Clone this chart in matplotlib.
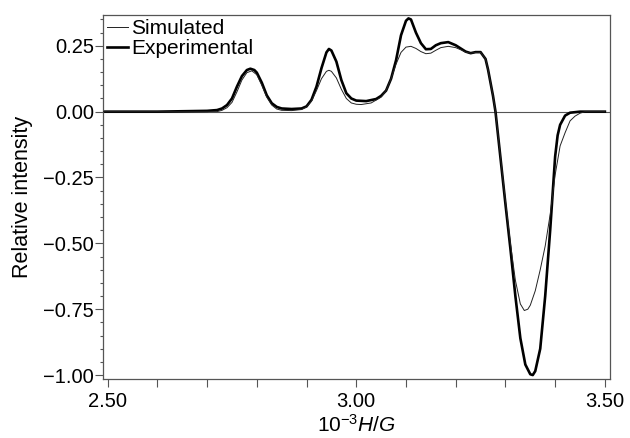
import matplotlib
matplotlib.use("Agg")
import matplotlib.pyplot as plt
from matplotlib.ticker import MultipleLocator, FixedLocator

plt.rcParams['font.family'] = ['Liberation Sans', 'DejaVu Sans']
plt.rcParams['mathtext.fontset'] = 'custom'
plt.rcParams['mathtext.it'] = 'Liberation Sans:italic'
plt.rcParams['mathtext.rm'] = 'Liberation Sans'

# Experimental spectrum (10^-3 H/G, relative intensity)
exp_x = [2.49, 2.60, 2.70, 2.72, 2.73, 2.74, 2.75, 2.76, 2.77, 2.78, 2.787, 2.795,
         2.80, 2.81, 2.82, 2.83, 2.84, 2.85, 2.87, 2.89, 2.90, 2.91, 2.92, 2.93,
         2.94, 2.945, 2.95, 2.96, 2.97, 2.98, 2.99, 3.00, 3.02, 3.04, 3.05, 3.06,
         3.07, 3.08, 3.09, 3.10, 3.105, 3.11, 3.12, 3.13, 3.14, 3.15, 3.16, 3.17,
         3.185, 3.20, 3.21, 3.22, 3.23, 3.24, 3.25, 3.26, 3.265, 3.27, 3.275, 3.28,
         3.29, 3.30, 3.31, 3.32, 3.33, 3.34, 3.35, 3.355, 3.36, 3.37, 3.38, 3.39,
         3.40, 3.405, 3.41, 3.42, 3.43, 3.45, 3.50]
exp_y = [0.0, 0.0, 0.003, 0.006, 0.012, 0.025, 0.05, 0.095, 0.135, 0.158, 0.163, 0.158,
         0.148, 0.11, 0.062, 0.032, 0.018, 0.012, 0.010, 0.012, 0.020, 0.045, 0.095, 0.165,
         0.225, 0.238, 0.232, 0.19, 0.12, 0.07, 0.05, 0.042, 0.040, 0.048, 0.060, 0.080,
         0.125, 0.195, 0.29, 0.345, 0.354, 0.35, 0.30, 0.26, 0.237, 0.238, 0.252, 0.26,
         0.264, 0.252, 0.24, 0.228, 0.222, 0.226, 0.226, 0.20, 0.16, 0.11, 0.06, 0.0,
         -0.175, -0.35, -0.52, -0.70, -0.86, -0.96, -0.997, -1.0, -0.985, -0.90, -0.70, -0.45,
         -0.17, -0.09, -0.05, -0.015, -0.004, 0.0, 0.0]

# Simulated spectrum
sim_x = [2.49, 2.72, 2.73, 2.74, 2.75, 2.76, 2.77, 2.78, 2.79, 2.80, 2.81, 2.82,
         2.83, 2.84, 2.85, 2.87, 2.89, 2.90, 2.91, 2.92, 2.93, 2.94, 2.945, 2.95,
         2.96, 2.97, 2.98, 2.99, 3.00, 3.01, 3.03, 3.05, 3.06, 3.07, 3.08, 3.09,
         3.10, 3.11, 3.12, 3.13, 3.14, 3.15, 3.16, 3.17, 3.185, 3.20, 3.21, 3.22,
         3.23, 3.24, 3.25, 3.26, 3.265, 3.27, 3.275, 3.28, 3.29, 3.30, 3.31, 3.32,
         3.33, 3.338, 3.345, 3.35, 3.36, 3.37, 3.38, 3.39, 3.40, 3.41, 3.42, 3.43,
         3.44, 3.45, 3.46, 3.50]
sim_y = [0.0, 0.0, 0.005, 0.015, 0.035, 0.075, 0.12, 0.148, 0.155, 0.14, 0.10, 0.055,
         0.025, 0.010, 0.005, 0.004, 0.008, 0.018, 0.04, 0.08, 0.125, 0.153, 0.157, 0.153,
         0.128, 0.085, 0.05, 0.033, 0.028, 0.027, 0.033, 0.055, 0.08, 0.125, 0.18, 0.225,
         0.245, 0.248, 0.24, 0.228, 0.22, 0.222, 0.233, 0.243, 0.248, 0.243, 0.235, 0.226,
         0.222, 0.225, 0.225, 0.20, 0.16, 0.11, 0.06, 0.0, -0.17, -0.34, -0.50, -0.64,
         -0.73, -0.755, -0.75, -0.735, -0.68, -0.60, -0.51, -0.39, -0.24, -0.13, -0.08, -0.035,
         -0.017, -0.006, 0.0, 0.0]

x_major = [2.50, 3.00, 3.50]
x_labels = ["2.50", "3.00", "3.50"]
y_major = [-1.00, -0.75, -0.50, -0.25, 0.00, 0.25]
y_labels = ["\u22121.00", "\u22120.75", "\u22120.50", "\u22120.25", "0.00", "0.25"]

fig = plt.figure(figsize=(6.3, 4.38), dpi=100)
ax = fig.add_axes([0.163, 0.1347, 0.968 - 0.163, 0.9658 - 0.1347])

ax.axhline(0, color='#555555', lw=0.8, zorder=1)
ax.plot(sim_x, sim_y, color='#222222', lw=0.7, label='Simulated', zorder=3)
ax.plot(exp_x, exp_y, color='black', lw=1.9, label='Experimental', zorder=2,
        solid_joinstyle='round')

ax.set_xlim(2.49, 3.51)
ax.set_ylim(-1.015, 0.367)

ax.xaxis.set_major_locator(FixedLocator(x_major))
ax.set_xticklabels(x_labels)
ax.xaxis.set_minor_locator(MultipleLocator(0.1))
ax.yaxis.set_major_locator(FixedLocator(y_major))
ax.set_yticklabels(y_labels)
ax.yaxis.set_minor_locator(MultipleLocator(0.05))

ax.tick_params(axis='both', which='both', direction='out', color='#555555', width=0.8)
ax.tick_params(axis='both', which='major', labelsize=14.5)
ax.tick_params(axis='x', which='both', length=5.5)
ax.tick_params(axis='x', which='major', pad=4)
ax.tick_params(axis='y', which='major', length=5.8, pad=0.5)
ax.tick_params(axis='y', which='minor', length=2.5)

for s in ax.spines.values():
    s.set_color('#555555')
    s.set_linewidth(0.9)

ax.set_xlabel(r'10$^{-3}$$\mathit{H}$/$\mathit{G}$', fontsize=15, labelpad=2)
ax.set_ylabel('Relative intensity', fontsize=15.5, labelpad=7)

leg = ax.legend(loc='upper left', frameon=False, fontsize=15, handlelength=1.0,
                handletextpad=0.15, borderaxespad=0.05, labelspacing=0.05,
                borderpad=0.15)

fig.savefig('out.png', dpi=100)
